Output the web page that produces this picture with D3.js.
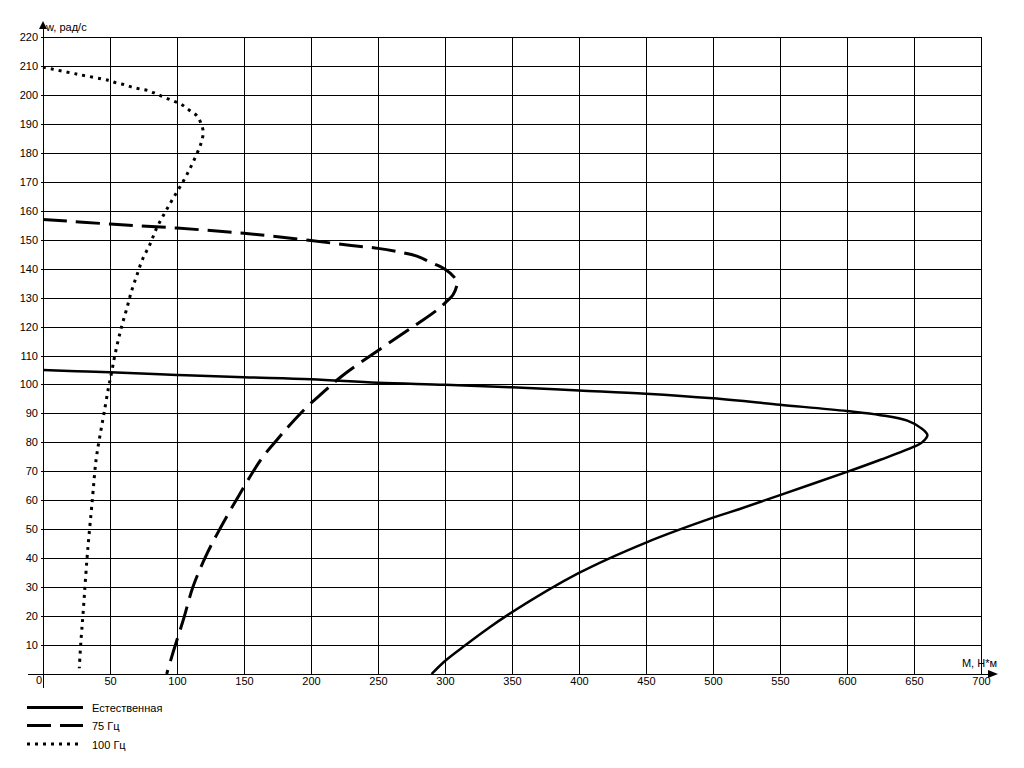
<!DOCTYPE html>
<html>
<head>
<meta charset="utf-8">
<script src="https://cdn.jsdelivr.net/npm/d3@7"></script>
<style>
  html, body { margin: 0; padding: 0; background: #fff; }
  svg { display: block; font-family: "Liberation Sans", Arial, sans-serif; }
</style>
</head>
<body>
<svg id="chart" width="1024" height="768"></svg>
<script>
// ---- data (M, N*m ; w, rad/s) ----
const naturalM = [0, 25, 50, 100, 150, 200, 250, 300, 350, 400, 450, 500, 550, 600, 625, 645, 655, 660, 656, 650, 625, 600, 550, 520, 500, 450, 400, 345.5, 330, 315.4, 300, 290];
const naturalW = [105, 104.6, 104.2, 103.3, 102.5, 101.8, 100.6, 99.9, 99, 97.9, 96.8, 95.2, 93, 90.8, 89.4, 87.5, 85, 82.5, 80, 78.5, 74, 69.8, 61.8, 57, 54, 45.4, 34.9, 20, 15, 10, 4.5, 0];

const hz75M = [0, 50, 100, 150, 200, 230, 250, 265, 279, 290, 300, 307, 309, 306, 301, 294, 278, 254, 222, 205.5, 198, 183, 175.6, 163, 146, 130, 121.6, 112, 104.7, 97.2, 92.3];
const hz75W = [157, 155.4, 154, 152.2, 149.7, 148, 147, 145.8, 144.3, 142, 139.8, 137, 135, 131, 128.6, 125.7, 120.5, 113, 102.5, 95.8, 92.7, 85.4, 81.4, 74.3, 61.5, 48.4, 40.8, 30.2, 18.7, 7.7, 0];

const hz100M = [0, 25, 49, 55.2, 61, 67, 72.9, 79.1, 84.8, 90.8, 96.8, 103, 109, 115, 118, 119.6, 118.7, 116.6, 111.4, 105.2, 98, 91.3, 84.8, 79.9, 74.1, 69.9, 65.9, 62.7, 59.2, 56.2, 53.5, 51.3, 48.8, 45.5, 42.5, 39.6, 36.8, 33, 30, 28.1, 27.1];
const hz100W = [209.6, 207.2, 205, 204.1, 203.5, 202.6, 202, 201.4, 200.3, 199.1, 198, 196.8, 194.8, 192.7, 190, 187.2, 184.5, 181.6, 176.2, 170.6, 165, 159.6, 154, 148.5, 143, 137.5, 132, 126.5, 120.9, 115.4, 109.8, 104.4, 98.7, 90, 82.3, 73.9, 60.1, 40.8, 21.5, 10, 2];

const xTicks = [0, 50, 100, 150, 200, 250, 300, 350, 400, 450, 500, 550, 600, 650, 700];
const yTicks = [0, 10, 20, 30, 40, 50, 60, 70, 80, 90, 100, 110, 120, 130, 140, 150, 160, 170, 180, 190, 200, 210, 220];
const legendLabels = ["Естественная", "75 Гц", "100 Гц"];
const xTitle = "М, Н*м";
const yTitle = "w, рад/с";

// ---- layout ----
const svg = d3.select("#chart");
const x = d3.scaleLinear().domain([0, 700]).range([43, 981]);
const y = d3.scaleLinear().domain([0, 220]).range([674, 37]);
const x0 = x(0), y0 = y(0), xR = x(700), yT = y(220);

// grid + labels via axes
const gx = svg.append("g")
  .attr("transform", `translate(0,${y0})`)
  .call(d3.axisBottom(x).tickValues(xTicks).tickSize(-(y0 - yT)).tickPadding(3)
        .tickFormat(d => d === 0 ? "" : d));
const gy = svg.append("g")
  .attr("transform", `translate(${x0},0)`)
  .call(d3.axisLeft(y).tickValues(yTicks).tickSize(-(xR - x0)).tickPadding(5));

[gx, gy].forEach(g => {
  g.select(".domain").remove();
  g.selectAll(".tick line").attr("stroke", "#000").attr("stroke-width", 1).attr("shape-rendering", "crispEdges");
  g.selectAll(".tick text").attr("fill", "#000").style("font-size", "11px").style("font-family", "'Liberation Sans', Arial, sans-serif");
});
// move y "0" label to the corner position
gy.selectAll(".tick").filter(d => d === 0).select("text").attr("x", -1).attr("dy", "0.9em");
// small left stubs of horizontal grid lines
gy.selectAll(".tick line").attr("x1", -2);

// axes lines with arrows
svg.append("line").attr("x1", 28).attr("x2", 990).attr("y1", y0).attr("y2", y0)
  .attr("stroke", "#000").attr("stroke-width", 1).attr("shape-rendering", "crispEdges");
svg.append("line").attr("x1", x0).attr("x2", x0).attr("y1", 28).attr("y2", 688)
  .attr("stroke", "#000").attr("stroke-width", 1).attr("shape-rendering", "crispEdges");
svg.append("path").attr("d", `M${x0},21 L${x0 - 4},29 L${x0 + 4},29 Z`).attr("fill", "#000");
svg.append("path").attr("d", `M998,${y0} L988,${y0 - 4} L988,${y0 + 4} Z`).attr("fill", "#000");
svg.append("text").attr("x", x0 + 3).attr("y", 31).text(yTitle)
  .style("font-size", "11px").attr("fill", "#000");
svg.append("text").attr("x", 997).attr("y", 667).attr("text-anchor", "end").text(xTitle)
  .style("font-size", "11px").attr("fill", "#000");

// curves
const series = [
  { m: naturalM, w: naturalW, dash: null, width: 2.5 },
  { m: hz75M, w: hz75W, dash: "24,9", width: 3 },
  { m: hz100M, w: hz100W, dash: "3,5", width: 3 }
];
const line = d3.line().x(d => x(d[0])).y(d => y(d[1])).curve(d3.curveCatmullRom.alpha(0.5));
series.forEach(s => {
  const pts = s.m.map((m, i) => [m, s.w[i]]);
  svg.append("path").datum(pts).attr("d", line)
    .attr("fill", "none").attr("stroke", "#000").attr("stroke-width", s.width)
    .attr("stroke-dasharray", s.dash).attr("stroke-linecap", "butt").attr("stroke-linejoin", "round");
});

// legend
const legY = [707.5, 725.5, 744];
legendLabels.forEach((lab, i) => {
  svg.append("line").attr("x1", 27).attr("x2", 83).attr("y1", legY[i]).attr("y2", legY[i])
    .attr("stroke", "#000").attr("stroke-width", 3)
    .attr("stroke-dasharray", series[i].dash);
  svg.append("text").attr("x", 92).attr("y", legY[i] + 4.5).text(lab)
    .style("font-size", "11px").attr("fill", "#000");
});
</script>
</body>
</html>
